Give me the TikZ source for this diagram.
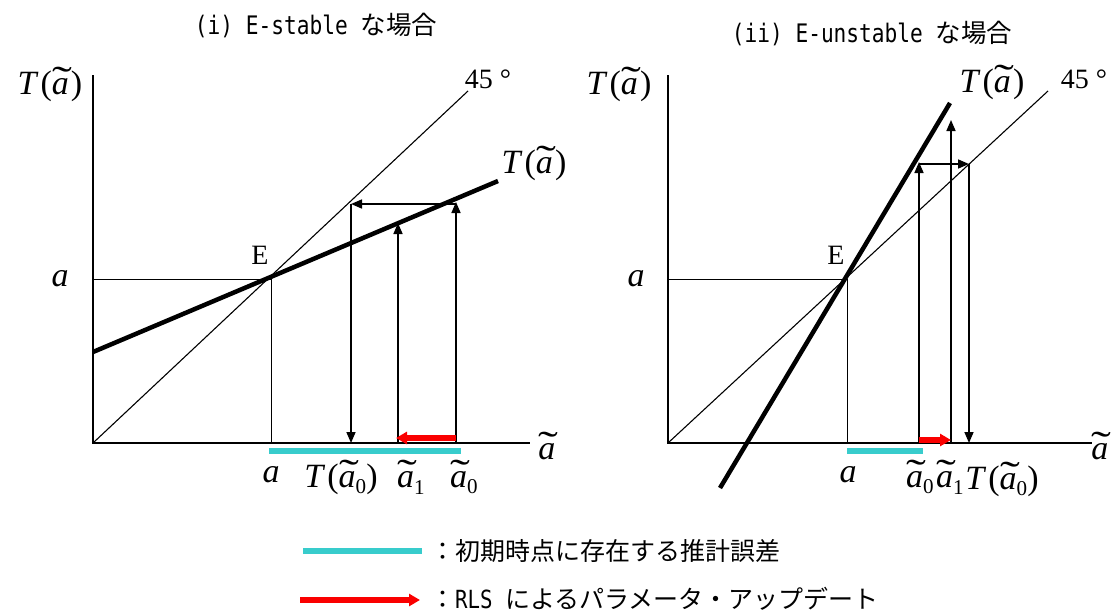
\documentclass[tikz,border=0pt]{standalone}
\usepackage{fontspec}
\usepackage{graphicx}
\setmainfont{Liberation Serif}
\newfontfamily\jpfont{Noto Sans CJK JP}
\newfontfamily\hwfont{DejaVu Sans Mono}
\usetikzlibrary{arrows.meta,calc}
\definecolor{errcyan}{RGB}{56,204,204}
\definecolor{updred}{RGB}{250,0,0}
% wide tilde over italic a
\newcommand\wta{\makebox[0pt][l]{\kern0.01em\raisebox{0.03em}{\scalebox{1.75}[1.15]{\char"02DC}}}\textit{a}\kern0.06em}
\newcommand\sbx[1]{\raisebox{-0.2em}{\scalebox{0.62}{#1}}}
\newcommand\Tfun[1]{\textit{T}\kern0.06em(#1)}
\newcommand\hw[1]{\scalebox{0.83}[1]{\hwfont #1}}
\tikzset{
  axisline/.style={line width=1.5pt,black},
  thinline/.style={line width=0.9pt,black},
  diagline/.style={line width=1.1pt,black},
  tline/.style={line width=4.5pt,black},
  steparrow/.style={line width=1.6pt,black,-{Triangle[length=11pt,width=9pt]}},
  errbar/.style={line width=6pt,errcyan},
  updarrow/.style={line width=5.5pt,updred,-{Triangle[length=11pt,width=12pt]}},
  lbl/.style={inner sep=0pt,font=\fontsize{34}{38}\selectfont},
  small/.style={inner sep=0pt,font=\fontsize{28}{30}\selectfont},
  jtitle/.style={inner sep=0pt,font=\jpfont\fontsize{25.5}{28}\selectfont},
  jleg/.style={inner sep=0pt,anchor=west,font=\jpfont\fontsize{25}{28}\selectfont},
}
\begin{document}
\begin{tikzpicture}[x=1pt,y=-1pt]
\useasboundingbox (0,0) rectangle (1112,613);
% ---------- Panel (i) ----------
\node[jtitle] (t1) at (316,25) {\hw{(i) E-stable }な場合};
\coordinate (O1) at (93,443);
\coordinate (Y1) at (93,75);
\coordinate (X1) at (530,443);
\coordinate (D1) at (468,91);
\coordinate (E1) at (271,279);
\coordinate (Ta1) at (93,352);
\coordinate (Tb1) at (498,181);
\coordinate (aY1) at (93,279);
\coordinate (aX1) at (271,443);
\draw[axisline] (Y1) -- (O1) -- (X1);
\draw[diagline] (O1) -- (D1);
\draw[thinline] (aY1) -- (E1) -- (aX1);
\draw[tline] (Ta1) -- (Tb1);
\coordinate (s0b) at (456,443);
\coordinate (s0t) at (456,202);
\coordinate (s1t) at (351,204);
\coordinate (s1b) at (351,443);
\coordinate (s2b) at (398,443);
\coordinate (s2t) at (398,223);
\draw[steparrow] (s0b) -- (s0t);
\draw[steparrow] (456,204) -- (s1t);
\draw[steparrow] (s1t) -- (s1b);
\draw[steparrow] (s2b) -- (s2t);
\coordinate (eb1a) at (269,451);
\coordinate (eb1b) at (461,451);
\draw[errbar] (eb1a) -- (eb1b);
\coordinate (u1a) at (456,438);
\coordinate (u1b) at (396,438);
\draw[updarrow] (u1a) -- (u1b);
\node[lbl] (TL1) at (50,84) {\Tfun{\wta}};
\node[lbl] (TR1) at (534,163) {\Tfun{\wta}};
\node[small] (d45a) at (488,79) {45 °};
\node[small] (Elab1) at (260,255) {E};
\node[lbl] (ay1) at (60,279) {\textit{a}};
\node[lbl] (ax1) at (271,475) {\textit{a}};
\node[lbl] (lT0) at (341,477) {\Tfun{\wta\kern-0.06em\sbx{0}}};
\node[lbl] (la1) at (411,477) {\wta\kern-0.06em\sbx{1}};
\node[lbl] (la0) at (464,477) {\wta\kern-0.06em\sbx{0}};
\node[lbl] (xl1) at (548,446) {\wta};
% ---------- Panel (ii) ----------
\node[jtitle] (t2) at (872,33) {\hw{(ii) E-unstable }な場合};
\coordinate (O2) at (668,443);
\coordinate (Y2) at (668,75);
\coordinate (X2) at (1092,443);
\coordinate (D2) at (1048,91);
\coordinate (E2) at (847,279);
\coordinate (Ta2) at (720,488);
\coordinate (Tb2) at (950,103);
\coordinate (aY2) at (668,279);
\coordinate (aX2) at (847,443);
\draw[axisline] (Y2) -- (O2) -- (X2);
\draw[diagline] (O2) -- (D2);
\draw[thinline] (aY2) -- (E2) -- (aX2);
\draw[tline] (Ta2) -- (Tb2);
\coordinate (r0b) at (919,443);
\coordinate (r0t) at (919,162);
\coordinate (r1t) at (969,164);
\coordinate (r1b) at (969,443);
\coordinate (r2b) at (951,443);
\coordinate (r2t) at (951,120);
\draw[steparrow] (r0b) -- (r0t);
\draw[steparrow] (919,164) -- (r1t);
\draw[steparrow] (r1t) -- (r1b);
\draw[steparrow] (r2b) -- (r2t);
\coordinate (eb2a) at (847,451);
\coordinate (eb2b) at (923,451);
\draw[errbar] (eb2a) -- (eb2b);
\coordinate (u2a) at (919,440);
\coordinate (u2b) at (951,440);
\draw[updarrow] (u2a) -- (u2b);
\node[lbl] (TL2) at (619,84) {\Tfun{\wta}};
\node[lbl] (TR2) at (992,82) {\Tfun{\wta}};
\node[small] (d45b) at (1084,79) {45 °};
\node[small] (Elab2) at (836,255) {E};
\node[lbl] (ay2) at (636,279) {\textit{a}};
\node[lbl] (ax2) at (848,475) {\textit{a}};
\node[lbl] (la0b) at (920,477) {\wta\kern-0.06em\sbx{0}};
\node[lbl] (la1b) at (950,477) {\wta\kern-0.06em\sbx{1}};
\node[lbl] (lT0b) at (1002,479) {\Tfun{\wta\kern-0.06em\sbx{0}}};
\node[lbl] (xl2) at (1101,446) {\wta};
% ---------- Legend ----------
\coordinate (lc1) at (303,551);
\coordinate (lc2) at (422,551);
\draw[errbar] (lc1) -- (lc2);
\node[jleg] (leg1) at (430,551) {：初期時点に存在する推計誤差};
\coordinate (lr1) at (300,600);
\coordinate (lr2) at (420,600);
\draw[updarrow] (lr1) -- (lr2);
\node[jleg] (leg2) at (430,599) {：\hw{RLS }によるパラメータ・アップデート};
\end{tikzpicture}
\end{document}
